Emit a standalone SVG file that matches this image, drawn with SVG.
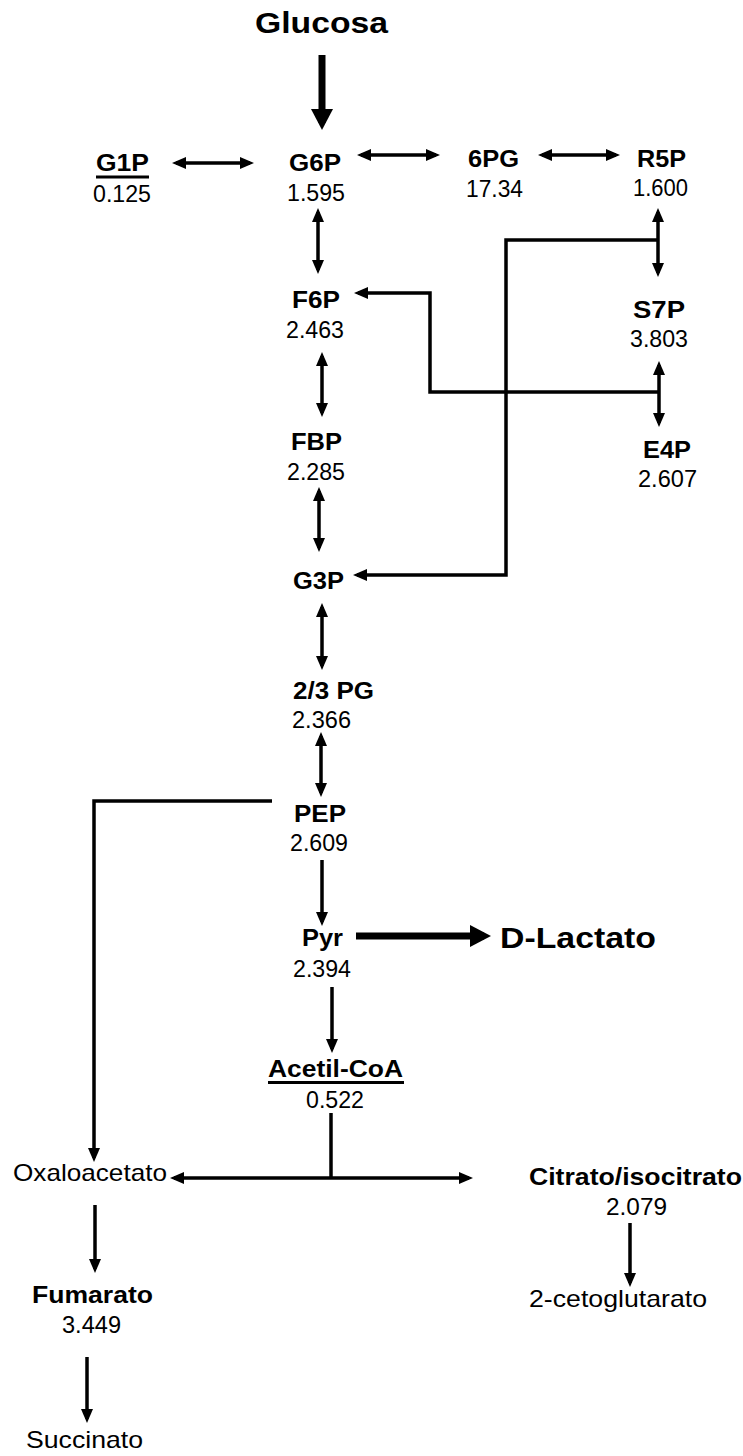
<svg xmlns="http://www.w3.org/2000/svg" width="743" height="1456" viewBox="0 0 743 1456">
<style>
text{font-family:"Liberation Sans",Arial,sans-serif;fill:#000}
.b{font-weight:bold;font-size:23px}
.n{font-size:23px}
.lb{font-weight:normal;font-size:24px}
.lbb{font-weight:bold;font-size:24px}
.big{font-weight:bold;font-size:29px}
.c{fill:none;stroke:#000;stroke-width:3.5;stroke-linejoin:miter}
.t{fill:none;stroke:#000;stroke-width:7}
.u{stroke:#000;stroke-width:3}
</style>
<defs>
<marker id="a" viewBox="0 0 14 12" refX="10" refY="6" markerWidth="14" markerHeight="12" markerUnits="userSpaceOnUse" orient="auto-start-reverse">
<path d="M0,0 L14,6 L0,12 z" fill="#000"/>
</marker>
<marker id="A" viewBox="0 0 21 22" refX="14" refY="11" markerWidth="21" markerHeight="22" markerUnits="userSpaceOnUse" orient="auto">
<path d="M0,0 L21,11 L0,22 z" fill="#000"/>
</marker>
</defs>
<rect width="743" height="1456" fill="#fff"/>

<g id="connectors">
<line class="t" x1="322" y1="55" x2="322" y2="123" marker-end="url(#A)"/>
<line class="c" x1="176" y1="163" x2="250" y2="163" marker-start="url(#a)" marker-end="url(#a)"/>
<line class="c" x1="361" y1="155" x2="436" y2="155" marker-start="url(#a)" marker-end="url(#a)"/>
<line class="c" x1="542" y1="155" x2="616" y2="155" marker-start="url(#a)" marker-end="url(#a)"/>
<line class="c" x1="318" y1="212" x2="318" y2="270" marker-start="url(#a)" marker-end="url(#a)"/>
<line class="c" x1="658" y1="212" x2="658" y2="273" marker-start="url(#a)" marker-end="url(#a)"/>
<path class="c" d="M658,240 H506 V575 H357" marker-end="url(#a)"/>
<path class="c" d="M659,392 H430 V293 H358" marker-end="url(#a)"/>
<line class="c" x1="322" y1="356" x2="322" y2="413" marker-start="url(#a)" marker-end="url(#a)"/>
<line class="c" x1="319" y1="491" x2="319" y2="548" marker-start="url(#a)" marker-end="url(#a)"/>
<line class="c" x1="659" y1="365" x2="659" y2="423" marker-start="url(#a)" marker-end="url(#a)"/>
<line class="c" x1="322" y1="607" x2="322" y2="666" marker-start="url(#a)" marker-end="url(#a)"/>
<line class="c" x1="321" y1="736" x2="321" y2="793" marker-start="url(#a)" marker-end="url(#a)"/>
<path class="c" d="M272,801 H94 V1158" marker-end="url(#a)"/>
<line class="c" x1="322" y1="860" x2="322" y2="922" marker-end="url(#a)"/>
<line class="t" x1="356" y1="936" x2="484" y2="936" marker-end="url(#A)"/>
<line class="c" x1="332" y1="987" x2="332" y2="1049" marker-end="url(#a)"/>
<line class="c" x1="331" y1="1113" x2="331" y2="1178"/>
<line class="c" x1="174" y1="1178" x2="469" y2="1178" marker-start="url(#a)" marker-end="url(#a)"/>
<line class="c" x1="95" y1="1205" x2="95" y2="1269" marker-end="url(#a)"/>
<line class="c" x1="87" y1="1357" x2="87" y2="1419" marker-end="url(#a)"/>
<line class="c" x1="630" y1="1223" x2="630" y2="1283" marker-end="url(#a)"/>
</g>

<g id="glucosa"><text class="b" style="font-size:29px" x="255" y="33" textLength="133" lengthAdjust="spacingAndGlyphs">Glucosa</text></g>
<g id="g1p"><text class="b" x="96" y="171" textLength="53" lengthAdjust="spacingAndGlyphs">G1P</text><line class="u" x1="96" y1="177" x2="149" y2="177"/><text class="n" x="93" y="202" textLength="58" lengthAdjust="spacingAndGlyphs">0.125</text></g>
<g id="g6p"><text class="b" x="289" y="171" textLength="52" lengthAdjust="spacingAndGlyphs">G6P</text><text class="n" x="287" y="201" textLength="58" lengthAdjust="spacingAndGlyphs">1.595</text></g>
<g id="pg6"><text class="b" x="468" y="167" textLength="51" lengthAdjust="spacingAndGlyphs">6PG</text><text class="n" x="466" y="197" textLength="57" lengthAdjust="spacingAndGlyphs">17.34</text></g>
<g id="r5p"><text class="b" x="637" y="167" textLength="49" lengthAdjust="spacingAndGlyphs">R5P</text><text class="n" x="633" y="196" textLength="55" lengthAdjust="spacingAndGlyphs">1.600</text></g>
<g id="s7p"><text class="b" x="633" y="318" textLength="52" lengthAdjust="spacingAndGlyphs">S7P</text><text class="n" x="630" y="347" textLength="58" lengthAdjust="spacingAndGlyphs">3.803</text></g>
<g id="e4p"><text class="b" x="643" y="458" textLength="48" lengthAdjust="spacingAndGlyphs">E4P</text><text class="n" x="638" y="487" textLength="59" lengthAdjust="spacingAndGlyphs">2.607</text></g>
<g id="f6p"><text class="b" x="292" y="308" textLength="48" lengthAdjust="spacingAndGlyphs">F6P</text><text class="n" x="286" y="338" textLength="58" lengthAdjust="spacingAndGlyphs">2.463</text></g>
<g id="fbp"><text class="b" x="291" y="450" textLength="51" lengthAdjust="spacingAndGlyphs">FBP</text><text class="n" x="287" y="480" textLength="58" lengthAdjust="spacingAndGlyphs">2.285</text></g>
<g id="g3p"><text class="b" x="293" y="589" textLength="51" lengthAdjust="spacingAndGlyphs">G3P</text></g>
<g id="pg23"><text class="b" x="293" y="699" textLength="81" lengthAdjust="spacingAndGlyphs">2/3 PG</text><text class="n" x="292" y="728" textLength="59" lengthAdjust="spacingAndGlyphs">2.366</text></g>
<g id="pep"><text class="b" x="294" y="822" textLength="52" lengthAdjust="spacingAndGlyphs">PEP</text><text class="n" x="290" y="851" textLength="58" lengthAdjust="spacingAndGlyphs">2.609</text></g>
<g id="pyr"><text class="b" x="302" y="946" textLength="41" lengthAdjust="spacingAndGlyphs">Pyr</text><text class="n" x="293" y="977" textLength="58" lengthAdjust="spacingAndGlyphs">2.394</text></g>
<g id="dlactato"><text class="big" x="500" y="948" textLength="156" lengthAdjust="spacingAndGlyphs">D-Lactato</text></g>
<g id="acetilcoa"><text class="b" x="268" y="1077" textLength="135" lengthAdjust="spacingAndGlyphs">Acetil-CoA</text><line class="u" x1="268" y1="1082.5" x2="404" y2="1082.5"/><text class="n" x="306" y="1108" textLength="58" lengthAdjust="spacingAndGlyphs">0.522</text></g>
<g id="oxaloacetato"><text class="lb" x="13" y="1181" textLength="154" lengthAdjust="spacingAndGlyphs">Oxaloacetato</text></g>
<g id="citrato"><text class="lbb" x="529" y="1185" textLength="213" lengthAdjust="spacingAndGlyphs">Citrato/isocitrato</text><text class="n" x="606" y="1215" textLength="61" lengthAdjust="spacingAndGlyphs">2.079</text></g>
<g id="cetoglutarato"><text class="lb" x="529" y="1307" textLength="178" lengthAdjust="spacingAndGlyphs">2-cetoglutarato</text></g>
<g id="fumarato"><text class="lbb" x="32" y="1303" textLength="121" lengthAdjust="spacingAndGlyphs">Fumarato</text><text class="n" x="62" y="1333" textLength="59" lengthAdjust="spacingAndGlyphs">3.449</text></g>
<g id="succinato"><text class="lb" x="26" y="1448" textLength="117" lengthAdjust="spacingAndGlyphs">Succinato</text></g>
</svg>
